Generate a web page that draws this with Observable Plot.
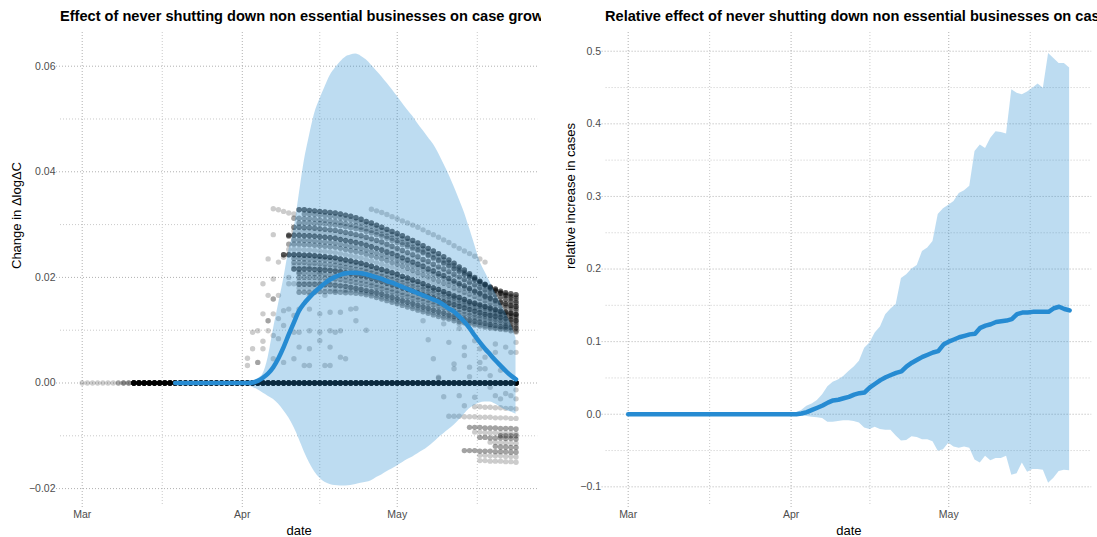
<!DOCTYPE html>
<html>
<head>
<meta charset="utf-8">
<script src="https://cdn.jsdelivr.net/npm/d3@7"></script>
<script src="https://cdn.jsdelivr.net/npm/@observablehq/plot@0.6"></script>
<style>
  html, body { margin: 0; padding: 0; background: #fff; }
  body { width: 1097px; height: 537px; overflow: hidden; position: relative;
         font-family: "Liberation Sans", Arial, Helvetica, sans-serif; }
  .panel { position: absolute; top: 0; height: 537px; overflow: hidden; }
  .title { position: absolute; top: 8px; white-space: nowrap; font-weight: bold;
           font-size: 14.6px; color: #000; line-height: 17px; }
  svg { position: absolute; top: 0; left: 0; }
</style>
</head>
<body>
<div id="left" class="panel" style="left:0;width:541px"><div class="title" id="t1" style="left:60px"></div></div>
<div id="right" class="panel" style="left:546px;width:551px"><div class="title" id="t2" style="left:59px"></div></div>
<script>
// ---------------- text ----------------
const titleLeft = "Effect of never shutting down non essential businesses on case growth";
const titleRight = "Relative effect of never shutting down non essential businesses on cases";
const xTitle = "date";
const yTitleLeft = "Change in \u0394log\u0394C";
const yTitleRight = "relative increase in cases";

// ---------------- axes ----------------
const startDate = "2020-03-01";          // day 0 of every day-offset below
const xTickDates = ["2020-03-01", "2020-04-01", "2020-05-01"];
const xTickLabels = ["Mar", "Apr", "May"];
const xMinorDates = ["2020-03-16T12:00:00Z", "2020-04-16T00:00:00Z", "2020-05-16T12:00:00Z"];
const yTicksLeft = [-0.02, 0, 0.02, 0.04, 0.06];
const yMinorLeft = [-0.01, 0.01, 0.03, 0.05];
const yTicksRight = [-0.1, 0, 0.1, 0.2, 0.3, 0.4, 0.5];
const yMinorRight = [-0.05, 0.05, 0.15, 0.25, 0.35, 0.45];

// ---------------- left panel: blue summary (values x 1e-4) ----------------
const leftMeanStart = 18;
const leftMean = [0,0,0,0,0,0,0,0,0,0,0,0,0,0,0,
  1,4,10,18,30,47,68,92,115,137,
  151,162,172,181,189,196,201,205,208,209,
  209,208,206,203,200,197,193,190,186,182,
  178,174,170,166,162,158,154,148,141,135,
  126,116,104,90,77,65,54,43,33,23,
  14,7];
const leftBandStart = 31;
const leftUpper = [0,1,3,8,17,48,100,148,196,250,
  290,355,420,468,510,537,560,582,596,608,
  617,621,623,619,612,602,591,580,568,556,
  543,530,517,505,491,478,465,452,435,415,
  395,372,348,323,293,262,231,210,191,171,
  152,133,112,85];
const leftLower = [0,-4,-8,-13,-19,-25,-31,-40,-52,-66,
  -84,-106,-130,-151,-168,-180,-188,-192,-194,-195,
  -195,-194,-192,-190,-188,-185,-179,-174,-168,-163,
  -157,-151,-145,-140,-134,-128,-121,-113,-104,-96,
  -88,-80,-70,-59,-49,-42,-38,-36,-36,-40,
  -46,-51,-55,-59];

// ---------------- left panel: individual points ----------------
// number of series sitting exactly at 0 on each day (day 0 .. 84)
const zeroCounts = [1,1,1,1,1,1,1,2,3,3,
  20,20,20,20,20,20,20,20,20,20,
  20,20,20,20,20,20,20,20,20,20,
  20,20,20,20,20,20,20,20,20,20,
  20,20,20,20,20,20,20,20,20,20,
  20,20,20,20,20,20,20,20,20,20,
  20,20,20,20,20,20,20,20,20,20,
  20,20,20,20,20,20,20,20,20,20,
  20,20,20,20,20];
// descending series (values x 1e-4); first day and overlap count are in seriesList
const rowA = [328,328,327,326,325,324,323,322,320,318,316,313,310,306,303,299,295,291,287,283,279,274,270,265,260,255,250,245,239,233,227,220,214,207,200,193,187,182,178,174,171,169,167];
const rowAB = [320,320,319,318,317,316,315,313,311,309,306,303,300,297,293,289,285,281,277,273,268,264,259,254,249,244,239,233,228,222,216,210,204,198,192,186,180,175,171,168,165,163];
const rowB = [312,312,311,311,310,309,308,307,306,304,302,300,298,295,292,289,286,282,278,274,270,266,262,257,253,248,243,238,233,228,223,217,212,206,200,195,189,184,178,174,170,166,163,160];
const rowBC = [303,303,303,302,302,301,300,299,298,296,294,292,290,287,284,281,278,274,270,266,262,258,254,250,246,241,236,231,226,221,216,211,206,201,196,191,186,181,176,170,165,160,156];
const rowC = [295,295,294,294,293,292,291,290,289,287,285,283,281,279,276,273,270,267,263,259,255,251,247,243,239,234,230,225,220,216,211,206,201,196,191,186,181,176,171,167,163,159,155,152];
const rowCD = [288,288,287,287,286,285,284,283,282,280,278,276,274,272,269,266,263,260,256,252,248,244,240,236,232,228,224,219,215,210,206,201,196,192,187,182,177,172,167,163,159,155,152,149];
const rowD = [280,280,280,279,279,278,277,276,275,274,272,270,268,266,264,261,258,255,252,248,245,241,237,233,229,225,221,216,212,207,203,198,193,188,184,179,174,170,165,161,157,153,150,147,145];
const rowDE = [271,271,270,270,269,268,267,266,265,263,261,259,257,255,252,249,246,243,240,237,233,230,226,222,218,214,210,206,202,198,193,189,185,180,176,172,168,163,159,155,151,147,144,141];
const rowE = [263,263,263,262,262,261,260,259,258,257,255,253,251,249,247,244,241,238,235,232,228,225,221,217,213,209,205,201,197,193,189,185,180,176,172,168,164,160,156,152,149,146,143,140,138];
const rowEF = [253,253,253,252,252,251,250,249,248,247,245,243,241,239,237,234,231,228,225,222,219,216,212,209,205,201,197,193,189,185,181,177,173,169,166,162,158,154,151,147,144,141,138,136,134];
const rowF = [243,243,243,243,242,242,241,240,239,238,237,235,233,231,229,227,224,221,218,215,212,209,206,202,199,195,192,188,184,180,177,173,169,165,162,158,154,151,148,145,142,139,136,134,132,130];
const rowFG = [236,236,235,235,234,234,233,232,230,228,226,224,222,220,217,214,211,208,205,202,199,196,193,189,186,182,179,175,172,168,164,161,157,154,151,148,145,142,139,136,133,131,129,127];
const rowG = [228,228,228,227,227,226,225,224,223,221,219,217,215,213,211,208,205,202,199,196,193,190,187,183,180,177,173,170,166,163,159,156,152,149,146,143,140,137,134,132,130,128,126,124];
const rowGH = [222,222,222,221,221,220,219,218,217,216,214,212,210,208,206,203,200,197,194,191,188,185,182,179,175,172,169,165,162,158,155,152,149,146,143,140,137,134,131,129,127,125,123,121];
const rowH = [216,216,216,216,215,215,214,213,212,211,209,207,205,203,201,198,195,192,189,186,183,180,177,174,171,167,164,161,157,154,151,148,145,142,139,136,133,130,128,126,124,122,120,118];
const rowHI = [208,208,208,207,207,206,205,204,203,201,199,197,195,193,190,187,184,181,178,175,172,169,166,163,160,157,154,151,148,145,142,139,136,133,130,128,126,123,121,119,117,115,114];
const rowI = [200,200,200,200,199,199,198,197,196,194,192,190,188,186,184,181,178,175,172,169,166,163,160,157,154,151,148,145,142,139,136,133,130,128,125,123,121,119,117,115,113,111,110];
const rowIJ = [193,193,193,193,193,192,192,191,190,188,186,184,182,180,178,175,172,169,166,163,160,157,154,151,148,145,142,139,136,133,130,128,125,123,121,119,117,115,113,111,109,108,107];
const rowJ = [187,187,187,187,187,186,186,185,184,183,181,179,177,175,173,171,168,165,162,159,156,153,150,147,144,141,138,135,132,129,126,124,121,119,117,115,113,111,109,107,106,105,104];
const rowJK = [180,180,180,180,180,180,179,179,178,177,176,175,173,171,169,166,163,160,157,154,151,148,145,142,139,136,133,130,127,125,122,120,117,115,113,111,109,107,105,104,103,102,101];
const rowK = [172,172,172,172,173,173,173,172,172,171,171,170,169,167,165,162,159,156,153,150,147,144,141,138,135,132,129,126,123,121,118,116,114,112,110,108,106,104,103,102,101,99,98];
const rowTop = [329,326,323,319,315,311,307,303,299,295,290,285,281,276,271,266,260,255,250,245,240,235,229];
const rowEarly = [330,328,325,322,320];
const neg1 = [-45,-45,-46,-46,-47,-47,-48,-48,-49];
const neg2 = [-63,-63,-63,-64,-64,-64,-65,-65,-65,-66,-66,-66,-67,-67];
const neg3 = [-84,-84,-84,-85,-85,-85,-86,-86,-86,-87];
const neg4 = [-93,-93,-94,-94,-94,-95,-95,-95,-96];
const neg5 = [-103,-103,-104,-104,-104,-105,-105,-106];
const neg6 = [-112,-112,-113,-113,-114,-114];
const neg7 = [-128,-128,-128,-129,-129,-129,-130,-130,-130,-131,-131];
const neg8 = [-137,-137,-138,-138,-138,-139,-139,-140];
const neg9 = [-147,-147,-148,-148,-148,-149,-149,-150];
const neg10 = [-100,-100,-100,-100];
const neg11 = [-120,-121,-121,-122,-122];
const seriesList = [
  [rowA, 42, 4], [rowAB, 43, 2], [rowB, 41, 2], [rowBC, 42, 2], [rowC, 41, 3],
  [rowCD, 41, 1], [rowD, 40, 4], [rowDE, 41, 2], [rowE, 40, 2], [rowEF, 40, 1],
  [rowF, 39, 5], [rowFG, 41, 2], [rowG, 41, 2], [rowGH, 41, 1], [rowH, 41, 4],
  [rowHI, 42, 2], [rowI, 42, 2], [rowIJ, 42, 1], [rowJ, 42, 3], [rowJK, 42, 1],
  [rowK, 42, 2], [rowTop, 56, 1], [rowEarly, 37, 1],
  [neg1, 76, 1], [neg2, 71, 1], [neg3, 75, 2], [neg4, 76, 1], [neg5, 77, 2],
  [neg6, 79, 1], [neg7, 74, 2], [neg8, 77, 1], [neg9, 77, 1], [neg10, 81, 2], [neg11, 80, 2]
];
// isolated points: [day offset, value x 1e-4]
const scatterPoints = [
  [37,281],[40,278],[40,278],[36,235],[39,238],[38,229],[37,197],[35,188],[36,166],[37,159],
  [37,159],[38,166],[35,131],[37,131],[36,118],[36,118],[33,96],[34,99],[36,99],[35,79],
  [33,65],[35,65],[32,47],[34,39],[34,39],[32,33],
  [40,140],[42,140],[41,128],[39,137],[38,122],[39,109],[41,96],[42,96],[37,90],[38,84],
  [42,68],[44,65],[46,80],[48,68],[50,49],[41,46],[43,33],[44,33],[47,33],[37,46],
  [39,39],[44,140],[46,131],[48,134],[50,134],[52,140],[44,166],[47,166],[49,175],[51,175],
  [46,210],[42,210],[44,99],[46,96],[48,99],[49,96],[40,188],[40,200],[41,188],[50,99],
  [48,33],[51,46],[53,141],[53,118],[55,100],
  [66,118],[67,82],[68,46],[69,9],[70,112],[71,77],[72,36],[72,27],[73,112],[73,103],
  [74,68],[74,52],[75,30],[76,80],[77,65],[77,39],[77,27],[78,49],[78,27],[79,109],
  [80,74],[80,58],[81,24],[82,109],[82,68],[83,58],[84,58],[84,96],[84,77],
  [69,11],[70,-26],[73,-24],[74,-43],[75,12],[76,-27],[79,14],[79,-8],[80,-24],[82,-20],
  [83,-24],[81,-30],[84,-30],[84,-13]
];

// ---------------- right panel ----------------
const rightMean = [0,0,0,0,0,0,0,0,0,0,0,0,0,0,0,0,0,0,0,0,0,0,0,0,0,0,0,0,0,0,0,
  0.000,0.000,0.001,0.003,0.006,0.009,0.012,0.016,0.019,0.020,
  0.022,0.024,0.027,0.029,0.030,0.037,0.042,0.047,0.051,0.054,
  0.057,0.059,0.066,0.071,0.075,0.079,0.082,0.085,0.087,0.096,
  0.100,0.103,0.106,0.108,0.110,0.111,0.119,0.122,0.124,0.127,
  0.128,0.129,0.131,0.138,0.140,0.140,0.141,0.141,0.141,0.141,
  0.146,0.148,0.145,0.143];
const rightBandStart = 31;
const rightUpper = [0.000,0.002,0.005,0.011,0.014,0.019,0.027,0.038,0.044,0.047,
  0.052,0.059,0.065,0.073,0.091,0.098,0.112,0.120,0.137,0.145,
  0.151,0.187,0.192,0.200,0.205,0.224,0.229,0.238,0.275,0.283,
  0.288,0.293,0.304,0.308,0.314,0.362,0.371,0.366,0.380,0.389,
  0.388,0.386,0.447,0.442,0.440,0.444,0.449,0.455,0.449,0.497,
  0.490,0.483,0.483,0.477];
const rightLower = [0.000,-0.001,-0.002,-0.003,-0.004,-0.005,-0.006,-0.011,-0.011,-0.010,
  -0.009,-0.009,-0.010,-0.012,-0.019,-0.021,-0.018,-0.021,-0.022,-0.022,
  -0.030,-0.037,-0.036,-0.031,-0.032,-0.035,-0.035,-0.038,-0.051,-0.049,
  -0.040,-0.045,-0.047,-0.045,-0.047,-0.063,-0.067,-0.058,-0.064,-0.061,
  -0.061,-0.058,-0.084,-0.082,-0.067,-0.080,-0.076,-0.076,-0.077,-0.095,
  -0.088,-0.079,-0.077,-0.078];

// ---------------- build ----------------
const DAY = 86400000;
const day0 = Date.parse(startDate + "T00:00:00Z");
const toDate = d => new Date(day0 + d * DAY);
const blue = "#268bd2";
const font = "'Liberation Sans', Arial, Helvetica, sans-serif";

const dots = [];
zeroCounts.forEach((n, i) => { for (let k = 0; k < n; k++) dots.push({date: toDate(i), v: 0}); });
seriesList.forEach(([vals, start, count]) => {
  vals.forEach((v, i) => { for (let k = 0; k < count; k++) dots.push({date: toDate(start + i), v: v / 1e4}); });
});
scatterPoints.forEach(([d, v]) => dots.push({date: toDate(d), v: v / 1e4}));

const leftLine = leftMean.map((v, i) => ({date: toDate(leftMeanStart + i), v: v / 1e4}));
const leftBand = leftUpper.map((u, i) => ({date: toDate(leftBandStart + i), hi: u / 1e4, lo: leftLower[i] / 1e4}));
const rightLine = rightMean.map((v, i) => ({date: toDate(i), v}));
const rightBand = rightUpper.map((u, i) => ({date: toDate(rightBandStart + i), hi: u, lo: rightLower[i]}));

const xTicks = xTickDates.map(d => new Date(d));
const xMinor = xMinorDates.map(d => new Date(d));
const xLabel = d => xTickLabels[xTicks.findIndex(t => +t === +d)];
const xDomain = [toDate(-4.2), toDate(88.2)];

function grid(yTicks, yMinor) {
  return [
    Plot.ruleY(yMinor, {stroke: "#c4c4c4", strokeWidth: 0.9, strokeDasharray: "1,2"}),
    Plot.ruleY(yTicks, {stroke: "#b0b0b0", strokeWidth: 1, strokeDasharray: "1,2", insetLeft: -4}),
    Plot.ruleX(xMinor, {stroke: "#c4c4c4", strokeWidth: 0.9, strokeDasharray: "1,2"}),
    Plot.ruleX(xTicks, {stroke: "#b0b0b0", strokeWidth: 1, strokeDasharray: "1,2", insetBottom: -4})
  ];
}
function axes(yTicks, fmt, yTitle, yTitleDx) {
  return [
    Plot.axisY(yTicks, {tickSize: 0, tickPadding: 5, tickFormat: fmt, fontSize: 10.5, fill: "#4d4d4d"}),
    Plot.axisX(xTicks, {tickSize: 0, tickPadding: 5, tickFormat: xLabel, fontSize: 10.5, fill: "#4d4d4d"}),
    Plot.text([xTitle], {frameAnchor: "bottom", dy: 25, fontSize: 13, fill: "#000", lineAnchor: "middle"}),
    Plot.text([yTitle], {frameAnchor: "left", dx: yTitleDx, rotate: -90, fontSize: 13, fill: "#000", lineAnchor: "middle"})
  ];
}

const left = Plot.plot({
  width: 541, height: 537,
  marginLeft: 60, marginRight: 541 - 537.2, marginTop: 32, marginBottom: 32,
  style: {fontFamily: font, background: "transparent", overflow: "visible"},
  x: {type: "utc", domain: xDomain, axis: null},
  y: {domain: [-0.0232, 0.06638], axis: null},
  marks: [
    ...grid(yTicksLeft, yMinorLeft),
    Plot.dot(dots, {x: "date", y: "v", r: 2.7, fill: "#000", fillOpacity: 0.2, stroke: "none"}),
    Plot.areaY(leftBand, {x: "date", y1: "lo", y2: "hi", fill: blue, fillOpacity: 0.3, curve: "monotone-x"}),
    Plot.lineY(leftLine, {x: "date", y: "v", stroke: blue, strokeWidth: 4.5, curve: "monotone-x"}),
    ...axes(yTicksLeft, d3.format(".2f"), yTitleLeft, -44)
  ]
});

const right = Plot.plot({
  width: 551, height: 537,
  marginLeft: 59.6, marginRight: 551 - 545.2, marginTop: 32, marginBottom: 32,
  style: {fontFamily: font, background: "transparent", overflow: "visible"},
  x: {type: "utc", domain: xDomain, axis: null},
  y: {domain: [-0.1257, 0.5258], axis: null},
  marks: [
    ...grid(yTicksRight, yMinorRight),
    Plot.areaY(rightBand, {x: "date", y1: "lo", y2: "hi", fill: blue, fillOpacity: 0.3}),
    Plot.lineY(rightLine, {x: "date", y: "v", stroke: blue, strokeWidth: 4.5}),
    ...axes(yTicksRight, d3.format(".1f"), yTitleRight, -35)
  ]
});

document.getElementById("t1").textContent = titleLeft;
document.getElementById("t2").textContent = titleRight;
document.getElementById("left").appendChild(left);
document.getElementById("right").appendChild(right);
</script>
</body>
</html>
